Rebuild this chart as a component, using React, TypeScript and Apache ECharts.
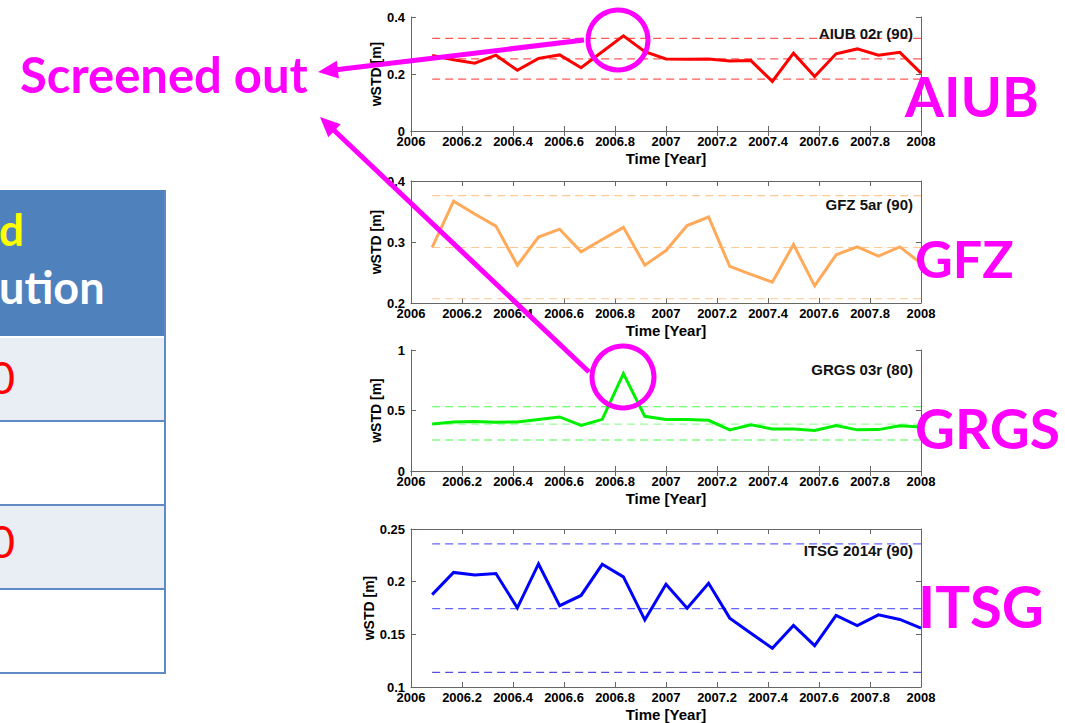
import React, { useEffect, useRef } from "react";
import * as echarts from "echarts";

// ---- data ----
const months = [
  2006.083, 2006.167, 2006.25, 2006.333, 2006.417, 2006.5, 2006.583, 2006.667,
  2006.75, 2006.833, 2006.917, 2007.0, 2007.083, 2007.167, 2007.25, 2007.333,
  2007.417, 2007.5, 2007.583, 2007.667, 2007.75, 2007.833, 2007.917, 2008.0,
];
const aiub = [
  0.265, 0.25, 0.238, 0.266, 0.213, 0.255, 0.267, 0.222, 0.278, 0.334, 0.278, 0.253,
  0.252, 0.253, 0.246, 0.247, 0.174, 0.273, 0.191, 0.271, 0.288, 0.266, 0.276, 0.203,
];
const gfz = [
  0.291, 0.367, 0.346, 0.326, 0.262, 0.308, 0.321, 0.284, 0.304, 0.324, 0.262, 0.286,
  0.327, 0.341, 0.26, 0.247, 0.234, 0.296, 0.228, 0.279, 0.292, 0.277, 0.292, 0.265,
];
const grgs = [
  0.389, 0.405, 0.41, 0.403, 0.405, 0.425, 0.447, 0.376, 0.427, 0.805, 0.452, 0.425,
  0.425, 0.419, 0.34, 0.381, 0.348, 0.348, 0.334, 0.375, 0.34, 0.342, 0.373, 0.364,
];
const itsg = [
  0.1877, 0.2088, 0.2063, 0.2078, 0.1752, 0.2168, 0.1772, 0.1869, 0.2165, 0.2045,
  0.1638, 0.1976, 0.1748, 0.1985, 0.1654, 0.151, 0.1368, 0.1584, 0.1392, 0.1679,
  0.1584, 0.1685, 0.1641, 0.1559,
];
const aiubBounds = [0.325, 0.253, 0.182];
const gfzBounds = [0.376, 0.291, 0.207];
const grgsBounds = [0.531, 0.388, 0.256];
const itsgBounds = [0.2358, 0.1745, 0.1139];

const panelTitles = ["AIUB 02r (90)", "GFZ 5ar (90)", "GRGS 03r (80)", "ITSG 2014r (90)"];
const centerNames = ["AIUB", "GFZ", "GRGS", "ITSG"];
const yMins = [0, 0.2, 0, 0.1];
const yMaxs = [0.4, 0.4, 1, 0.25];
const yIntervals = [0.2, 0.1, 0.5, 0.05];
const xMin = 2006;
const xMax = 2008;
const xInterval = 0.2;
const xName = "Time [Year]";
const yName = "wSTD [m]";

// ---- layout / style ----
const panels = [
  { values: aiub, bounds: aiubBounds, color: "#ff0000", dash: ["#ff5a5a", "#ff5a5a", "#ff5a5a"], top: 17, height: 114, titleY: 33, nameX: 905, nameY: 95, nameSize: 56 },
  { values: gfz, bounds: gfzBounds, color: "#ffa95a", dash: ["#ffc890", "#ffc890", "#ffc890"], top: 181, height: 122, titleY: 204, nameX: 915, nameY: 258, nameSize: 52 },
  { values: grgs, bounds: grgsBounds, color: "#00f000", dash: ["#44ff44", "#99ff99", "#44ff44"], top: 350, height: 121, titleY: 369, nameX: 915, nameY: 428, nameSize: 55 },
  { values: itsg, bounds: itsgBounds, color: "#0000ff", dash: ["#6464ff", "#6464ff", "#5050dd"], top: 529, height: 159, titleY: 550, nameX: 918, nameY: 605, nameSize: 58 },
];
const gridLeft = 411;
const gridWidth = 510;
const magenta = "#ff00ff";
const axisColor = "#666666";
const fontFam = "Liberation Sans, Arial, sans-serif";

function fmt(v: number) {
  return String(parseFloat(v.toFixed(3)));
}

function arrow(x1: number, y1: number, x2: number, y2: number) {
  const dx = x2 - x1;
  const dy = y2 - y1;
  const len = Math.sqrt(dx * dx + dy * dy);
  const ux = dx / len;
  const uy = dy / len;
  const hl = 20;
  const hw = 9;
  const bx = x2 - ux * hl;
  const by = y2 - uy * hl;
  return [
    {
      type: "line",
      z: 100,
      shape: { x1, y1, x2: bx + ux * 4, y2: by + uy * 4 },
      style: { stroke: magenta, lineWidth: 5 },
    },
    {
      type: "polygon",
      z: 100,
      shape: {
        points: [
          [x2, y2],
          [bx - uy * hw, by + ux * hw],
          [bx + uy * hw, by - ux * hw],
        ],
      },
      style: { fill: magenta },
    },
  ];
}

export default function App() {
  const ref = useRef<HTMLDivElement>(null);
  useEffect(() => {
    if (!ref.current) return;
    const chart = echarts.init(ref.current, undefined, { renderer: "svg" });

    const grid: any[] = [];
    const xAxis: any[] = [];
    const yAxis: any[] = [];
    const series: any[] = [];
    const graphic: any[] = [];

    panels.forEach((p, i) => {
      grid.push({ left: gridLeft, top: p.top, width: gridWidth, height: p.height, containLabel: false });
      const tickStyle = { inside: true, length: 5, lineStyle: { color: axisColor } };
      const lineStyle = { show: true, lineStyle: { color: axisColor, width: 1 } };
      xAxis.push({
        type: "value",
        gridIndex: i,
        min: xMin,
        max: xMax,
        interval: xInterval,
        position: "bottom",
        axisLine: lineStyle,
        axisTick: tickStyle,
        splitLine: { show: false },
        axisLabel: {
          formatter: (v: number) => fmt(v),
          color: "#000",
          fontWeight: "bold",
          fontSize: 13,
          fontFamily: fontFam,
          margin: 4,
          showMinLabel: true,
          showMaxLabel: true,
        },
        name: xName,
        nameLocation: "middle",
        nameGap: 20,
        nameTextStyle: { color: "#000", fontWeight: "bold", fontSize: 15, fontFamily: fontFam },
      });
      xAxis.push({
        type: "value",
        gridIndex: i,
        min: xMin,
        max: xMax,
        interval: xInterval,
        position: "top",
        axisLine: lineStyle,
        axisTick: tickStyle,
        splitLine: { show: false },
        axisLabel: { show: false },
      });
      yAxis.push({
        type: "value",
        gridIndex: i,
        min: yMins[i],
        max: yMaxs[i],
        interval: yIntervals[i],
        position: "left",
        axisLine: lineStyle,
        axisTick: tickStyle,
        splitLine: { show: false },
        axisLabel: {
          formatter: (v: number) => fmt(v),
          color: "#000",
          fontWeight: "bold",
          fontSize: 13,
          fontFamily: fontFam,
          margin: 6,
          showMinLabel: true,
          showMaxLabel: true,
        },
        name: yName,
        nameLocation: "middle",
        nameGap: 28,
        nameRotate: 90,
        nameTextStyle: { color: "#000", fontWeight: "bold", fontSize: 14, fontFamily: fontFam },
      });
      yAxis.push({
        type: "value",
        gridIndex: i,
        min: yMins[i],
        max: yMaxs[i],
        interval: yIntervals[i],
        position: "right",
        axisLine: lineStyle,
        axisTick: tickStyle,
        splitLine: { show: false },
        axisLabel: { show: false },
      });

      p.bounds.forEach((b, j) => {
        series.push({
          type: "line",
          xAxisIndex: i * 2,
          yAxisIndex: i * 2,
          data: [
            [months[0], b],
            [months[months.length - 1], b],
          ],
          showSymbol: false,
          silent: true,
          lineStyle: { color: p.dash[j], width: 1.2, type: [8, 5] },
          z: 1,
        });
      });
      series.push({
        type: "line",
        xAxisIndex: i * 2,
        yAxisIndex: i * 2,
        data: months.map((m, k) => [m, p.values[k]]),
        showSymbol: false,
        lineStyle: { color: p.color, width: 3, join: "miter" },
        z: 2,
      });

      graphic.push({
        type: "text",
        z: 50,
        x: gridLeft + gridWidth - 8,
        y: p.titleY,
        style: {
          text: panelTitles[i],
          align: "right",
          verticalAlign: "middle",
          fill: "#111",
          font: `bold 15px ${fontFam}`,
        },
      });
      graphic.push({
        type: "text",
        z: 100,
        x: p.nameX,
        y: p.nameY,
        style: {
          text: centerNames[i],
          align: "left",
          verticalAlign: "middle",
          fill: magenta,
          font: `bold ${p.nameSize}px Lato, sans-serif`,
        },
      });
    });

    // table on the left
    const tableBlue = "#4f81bd";
    graphic.push(
      { type: "rect", z: 10, shape: { x: -2, y: 190, width: 168, height: 147 }, style: { fill: tableBlue } },
      { type: "rect", z: 10, shape: { x: -2, y: 337, width: 168, height: 84 }, style: { fill: "#e9edf4" } },
      { type: "rect", z: 10, shape: { x: -2, y: 421, width: 168, height: 84 }, style: { fill: "#ffffff" } },
      { type: "rect", z: 10, shape: { x: -2, y: 505, width: 168, height: 84 }, style: { fill: "#e9edf4" } },
      { type: "rect", z: 10, shape: { x: -2, y: 589, width: 168, height: 84 }, style: { fill: "#ffffff" } }
    );
    [337, 421, 505, 589, 673].forEach((y) => {
      graphic.push({
        type: "line",
        z: 11,
        shape: { x1: -2, y1: y, x2: 166, y2: y },
        style: { stroke: y === 337 ? "#ffffff" : "#5f8ac4", lineWidth: 2 },
      });
    });
    graphic.push({
      type: "line",
      z: 12,
      shape: { x1: 165, y1: 190, x2: 165, y2: 674 },
      style: { stroke: "#5f8ac4", lineWidth: 2 },
    });
    graphic.push(
      { type: "text", z: 13, x: -1, y: 229, style: { text: "d", align: "left", verticalAlign: "middle", fill: "#ffff00", font: "bold 44px Lato, sans-serif" } },
      { type: "text", z: 13, x: -1, y: 287, style: { text: "ution", align: "left", verticalAlign: "middle", fill: "#ffffff", font: "bold 45px Lato, sans-serif" } },
      { type: "text", z: 13, x: 15, y: 377, style: { text: "0", align: "right", verticalAlign: "middle", fill: "#ff0000", font: "44px Lato, sans-serif" } },
      { type: "text", z: 13, x: 15, y: 541, style: { text: "0", align: "right", verticalAlign: "middle", fill: "#ff0000", font: "44px Lato, sans-serif" } }
    );

    // annotations
    graphic.push({
      type: "text",
      z: 100,
      x: 20,
      y: 74,
      style: { text: "Screened out", align: "left", verticalAlign: "middle", fill: magenta, font: "bold 49px Lato, sans-serif" },
    });
    graphic.push(...arrow(584, 40, 318, 72));
    graphic.push(...arrow(589, 372, 320, 117));
    graphic.push({
      type: "circle",
      z: 100,
      shape: { cx: 618, cy: 40, r: 30 },
      style: { fill: "none", stroke: magenta, lineWidth: 5 },
    });
    graphic.push({
      type: "circle",
      z: 100,
      shape: { cx: 623, cy: 377, r: 31 },
      style: { fill: "none", stroke: magenta, lineWidth: 5 },
    });

    chart.setOption({
      animation: false,
      backgroundColor: "#ffffff",
      grid,
      xAxis,
      yAxis,
      series,
      graphic,
    });
    return () => chart.dispose();
  }, []);
  return (
    <div
      ref={ref}
      style={{ position: "fixed", left: 0, top: 0, width: 1065, height: 723 }}
    />
  );
}
